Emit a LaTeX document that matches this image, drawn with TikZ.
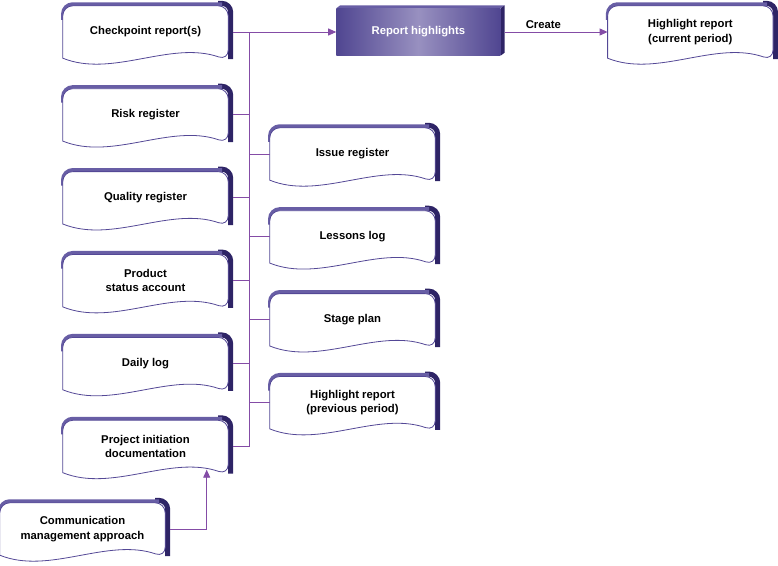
\documentclass[tikz,border=0pt]{standalone}
\usepackage{fontspec}
\setmainfont{Liberation Sans}
\usetikzlibrary{positioning,arrows.meta,calc,backgrounds}
\definecolor{linkc}{RGB}{132,76,166}
\definecolor{docedge}{RGB}{84,72,150}
\definecolor{rimtop}{RGB}{104,94,165}
\definecolor{rimside}{RGB}{46,36,102}
\definecolor{hledge}{RGB}{80,70,145}
\definecolor{hlmid}{RGB}{152,144,192}

\begin{document}
\begin{tikzpicture}[x=1pt, y=-1pt,
  font=\fontsize{11.3}{14.5}\selectfont\bfseries,
  doc/.style={minimum width=165pt, minimum height=52pt, align=center, inner sep=2pt},
  hl/.style={minimum width=164pt, minimum height=47pt, text=white,
    left color=hledge, right color=hledge, middle color=hlmid},
  link/.style={draw=linkc, line width=0.9pt},
  flow/.style={link, -{Triangle[length=8pt,width=7pt]}},
  front/.style={draw=docedge, line width=0.8pt, fill=white},
  rimt/.style={draw=rimtop, line width=3.5pt, rounded corners=10pt},
  rims/.style={draw=rimside, line width=5pt, rounded corners=9pt}
]
\useasboundingbox (0,0) rectangle (778,565);
% left column
\node[doc] (cp) at (145.5,32) {Checkpoint report(s)};
\node[doc, below=30.5pt of cp] (risk) {Risk register};
\node[doc, below=30.5pt of risk] (qual) {Quality register};
\node[doc, below=30.5pt of qual] (psa) {Product\\status account};
\node[doc, below=30.5pt of psa] (dlog) {Daily log};
\node[doc, below=30.5pt of dlog] (pid) {Project initiation\\documentation};
\node[doc] (comm) at (82.5,529) {Communication\\management approach};
% right column
\node[doc] (iss) at (352.5,154) {Issue register};
\node[doc, below=30.5pt of iss] (les) {Lessons log};
\node[doc, below=30.5pt of les] (stg) {Stage plan};
\node[doc, below=30.5pt of stg] (hlp) {Highlight report\\(previous period)};
% top row
\node[hl, right=108pt of cp] (rh) {Report highlights};
\node[doc, right=107pt of rh] (hlc) {Highlight report\\(current period)};
\coordinate (bus) at (249,0);
\coordinate (pidin) at ($(pid.south west)!0.87!(pid.south east)+(0,-3)$);

\begin{scope}[on background layer]
\foreach \n in {cp,risk,qual,psa,dlog,pid,comm,iss,les,stg,hlp,hlc}{
  \draw[rims] ($(\n.north east)+(-10,-2.5)$) -- ($(\n.north east)+(2.5,-2.5)$) -- ($(\n.south east)+(2.5,1)$);
  \draw[rimt] ($(\n.north west)+(0,14)$) -- ($(\n.north west)+(0,-1.8)$) -- ($(\n.north east)+(-6,-1.8)$);
  \draw[front] ($(\n.south east)+(0,2)$) .. controls ($(\n.south west)!0.65!(\n.south east)+(0,-18)$)
    and ($(\n.south west)!0.3!(\n.south east)+(0,20)$) .. (\n.south west)
    [rounded corners=10pt] -- (\n.north west) -- (\n.north east) -- cycle;
}
\fill[rimtop] (rh.north west) -- ++(4,-3) -- ($(rh.north east)+(4,-3)$) -- (rh.north east) -- cycle;
\fill[rimside] (rh.north east) -- ++(4,-3) -- ($(rh.south east)+(4,-3)$) -- (rh.south east) -- cycle;
\end{scope}

\draw[link] (cp.east -| bus) -- (pid.east -| bus);
\foreach \n in {risk,qual,psa,dlog,pid}{\draw[link, shorten <=5pt] (\n.east) -- (\n.east -| bus);}
\foreach \n in {iss,les,stg,hlp}{\draw[link] (\n.west) -- (\n.west -| bus);}
\draw[flow, shorten <=5pt] (cp.east) -- (rh.west);
\draw[flow, shorten <=4pt] (rh.east) -- node[above, pos=0.4] (cr) {Create} (hlc.west);
\draw[flow, shorten <=5pt] (comm.east) -| (pidin);
\end{tikzpicture}
\end{document}
